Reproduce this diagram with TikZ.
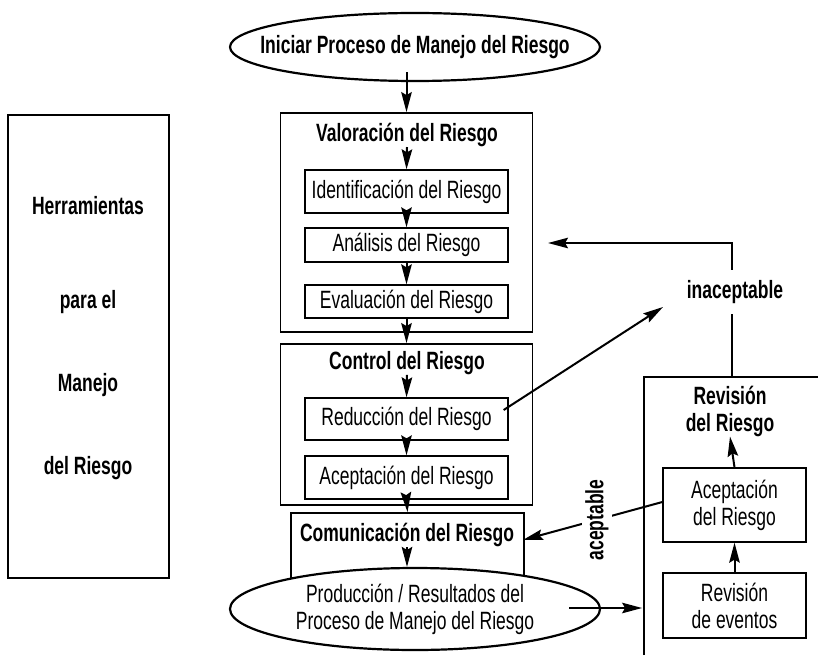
\documentclass[tikz,border=0pt]{standalone}
\usepackage{fontspec}
\setmainfont{Liberation Sans}[FakeStretch=0.7]
\usetikzlibrary{arrows.meta,calc,shapes.geometric}
\begin{document}
\begin{tikzpicture}[x=1pt,y=-1pt,
  every node/.style={font=\fontsize{25}{27}\selectfont, align=center, inner sep=0pt},
  outer/.style={draw, line width=1.8pt, minimum width=252pt},
  innerbox/.style={draw, line width=1.3pt, minimum width=203pt, fill=white},
  ttl/.style={font=\fontsize{25}{27}\selectfont\bfseries},
  oval/.style={draw, ellipse, line width=2.2pt, fill=white, inner sep=0pt},
  arr/.style={-{Stealth[length=20pt,width=10.5pt,inset=3pt]}, line width=2pt},
  ln/.style={line width=2pt},
]
\useasboundingbox (0,0) rectangle (818,655);
\fill[white] (0,0) rectangle (818,655);

% left box
\node[draw, line width=1.8pt, minimum width=161pt, minimum height=463pt] (tools) at (88.5,346.5) {};
\node[ttl] (tools1) at (88,206) {Herramientas};
\node[ttl] (tools2) at (88,302) {para el};
\node[ttl] (tools3) at (88,385) {Manejo};
\node[ttl] (tools4) at (88,468) {del Riesgo};

% start
\node[oval, minimum width=370pt, minimum height=68pt] (start) at (415,47) {};
\node[ttl] (startT) at (start) {Iniciar Proceso de Manejo del Riesgo};

% valoracion
\node[outer, minimum height=219pt] (val) at (406.5,222.5) {};
\node[ttl] (valT) at (407,135) {Valoración del Riesgo};
\node[innerbox, minimum height=43pt] (ident) at (406.5,191.5) {Identificación del Riesgo};
\node[innerbox, minimum height=34pt] (anal) at (406.5,245) {Análisis del Riesgo};
\node[innerbox, minimum height=33pt] (eval) at (406.5,301.5) {Evaluación del Riesgo};

% control
\node[outer, minimum height=161pt] (ctl) at (406.5,424.5) {};
\node[ttl] (ctlT) at (407,363) {Control del Riesgo};
\node[innerbox, minimum height=42pt] (red) at (406.5,419) {Reducción del Riesgo};
\node[innerbox, minimum height=43pt] (acep) at (406.5,477.5) {Aceptación del Riesgo};

% comunicacion
\node[draw, line width=1.8pt, minimum width=233pt, minimum height=80pt] (com) at (407.5,553) {};
\node[ttl] (comT) at (407,535) {Comunicación del Riesgo};

% output
\node[oval, minimum width=370pt, minimum height=82pt] (out) at (415,609) {};
\node (outT) at (out) {Producción / Resultados del\\Proceso de Manejo del Riesgo};

% vertical arrows
\draw[arr] ($(start.south -| val.north)+(0,-10)$) -- (val.north);
\draw[arr] (valT.south) -- (ident.north);
\draw[arr] (ident.south) -- (anal.north);
\draw[arr] (anal.south) -- (eval.north);
\draw[arr] (eval.south) -- (ctl.north);
\draw[arr] (ctlT.south) -- (red.north);
\draw[arr] (red.south) -- (acep.north);
\draw[arr] (acep.south) -- (com.north);
\draw[arr] (comT.south) -- (comT.south |- out.north);

% revision
\coordinate (revTL) at (644,377);
\coordinate (revTR) at (818,377);
\coordinate (revBL) at (644,655);
\draw[ln] (revBL) -- (revTL) -- (revTR);
\node[ttl] (revT) at (730,411) {Revisión\\del Riesgo};
\node[innerbox, minimum width=143pt, minimum height=74pt] (acc2) at (734.5,505) {Aceptación\\del Riesgo};
\node[innerbox, minimum width=143pt, minimum height=65pt] (evt) at (734.5,605.5) {Revisión\\de eventos};
\draw[arr] (evt.north) -- (acc2.south);
\draw[arr] (acc2.north) -- (revT.south);

% inaceptable loop
\coordinate (inacTop) at (732,377);
\coordinate (backTip) at (548,243);
\draw[arr] (inacTop) |- (backTip);
\node[ttl, fill=white, inner ysep=10pt, inner xsep=4pt] (inac) at (735,292) {inaceptable};
\coordinate (inacTip) at (663,307);
\draw[arr] ($(red.east)+(-5,-9)$) -- (inacTip);

% aceptable
\draw[arr] ($(acc2.west)+(0,-3)$) -- ($(com.east)+(-2,-13)$);
\node[ttl, fill=white, rotate=90, inner sep=3pt] (acept) at (597,520) {aceptable};

% output to revision
\draw[arr] ($(out.east)+(-32,-1)$) -- ($(out.east)+(41,-1)$);
\end{tikzpicture}
\end{document}
